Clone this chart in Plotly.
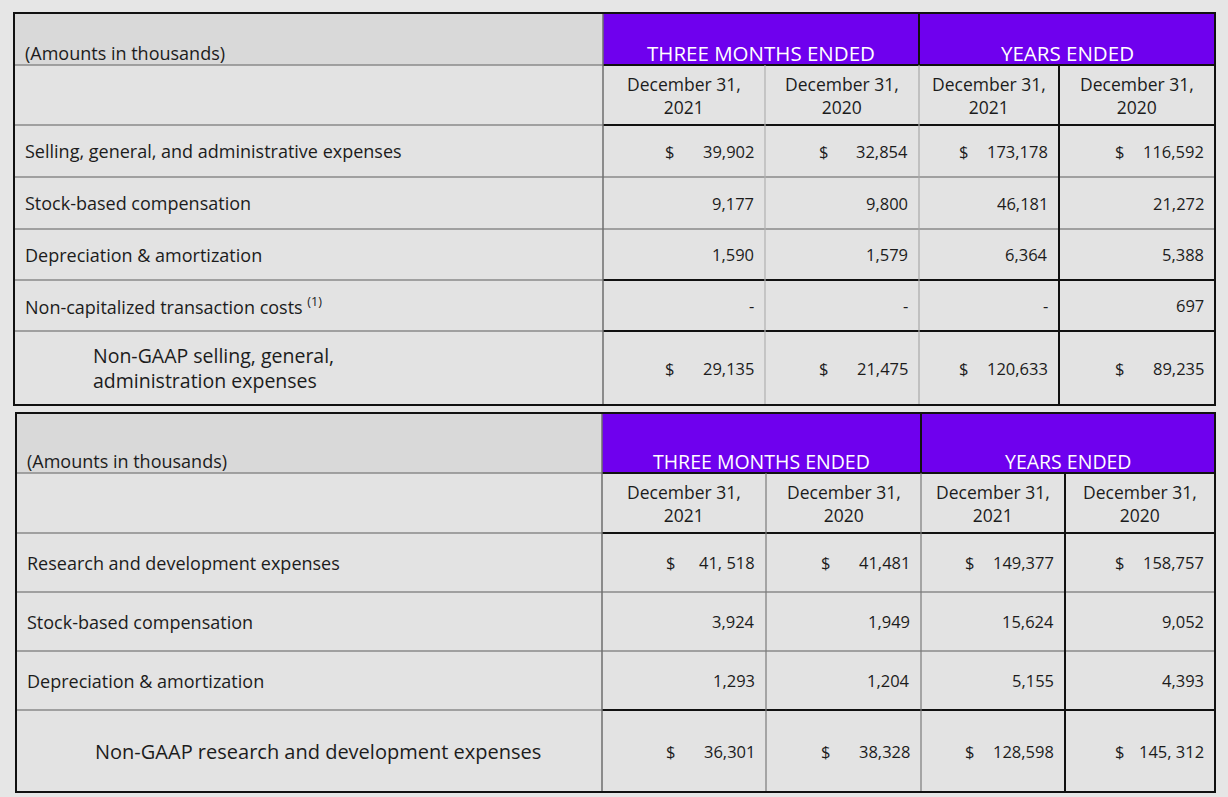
import plotly.graph_objects as go

# --- data ---------------------------------------------------------------
period_groups = ["THREE MONTHS ENDED", "YEARS ENDED"]
period_dates = ["December 31,<br>2021", "December 31,<br>2020",
                "December 31,<br>2021", "December 31,<br>2020"]
units_note = "(Amounts in thousands)"

sga_labels = ["Selling, general, and administrative expenses",
              "Stock-based compensation",
              "Depreciation & amortization",
              "Non-capitalized transaction costs <sup>(1)</sup>",
              "Non-GAAP selling, general,<br>administration expenses"]
sga_q4_2021 = ["39,902", "9,177", "1,590", "-", "29,135"]
sga_q4_2020 = ["32,854", "9,800", "1,579", "-", "21,475"]
sga_fy_2021 = ["173,178", "46,181", "6,364", "-", "120,633"]
sga_fy_2020 = ["116,592", "21,272", "5,388", "697", "89,235"]

rd_labels = ["Research and development expenses",
             "Stock-based compensation",
             "Depreciation & amortization",
             "Non-GAAP research and development expenses"]
rd_q4_2021 = ["41, 518", "3,924", "1,293", "36,301"]
rd_q4_2020 = ["41,481", "1,949", "1,204", "38,328"]
rd_fy_2021 = ["149,377", "15,624", "5,155", "128,598"]
rd_fy_2020 = ["158,757", "9,052", "4,393", "145, 312"]

# --- layout / styles ----------------------------------------------------
W, H = 1228, 797
PURPLE = "#6f00ee"
CELL = "#e3e3e3"
HEAD = "#d9d9d9"
TXT = "#1c1c1c"
BLACK = "#111111"
GRAY = "#8a8a8a"
FONT = "Open Sans"

fig = go.Figure()


def line(x0, y0, x1, y1, color, width):
    fig.add_shape(type="line", x0=x0, y0=y0, x1=x1, y1=y1, xref="x", yref="y",
                  line=dict(color=color, width=width), layer="above")


def rect(x0, y0, x1, y1, color):
    fig.add_shape(type="rect", x0=x0, y0=y0, x1=x1, y1=y1, xref="x", yref="y",
                  fillcolor=color, line=dict(width=0), layer="below")


def text(x, y, s, anchor="left", size=17.5, color=TXT):
    fig.add_annotation(x=x, y=y, text=s, xref="x", yref="y", showarrow=False,
                       xanchor=anchor, yanchor="middle", align=anchor,
                       font=dict(family=FONT, size=size, color=color))


def draw_panel(xs, ys, labels, columns, head_size, total_size, mid_gray, inner_gray, strong_rows):
    # cell fills
    rect(xs[0], ys[0], xs[1], ys[1], HEAD)
    rect(xs[1], ys[0], xs[5], ys[1], PURPLE)
    rect(xs[0], ys[1], xs[5], ys[-1], CELL)

    # group header row
    text(xs[0] + 9, ys[1] - 12, units_note, size=18)
    text((xs[1] + xs[3]) / 2, ys[1] - 12, period_groups[0], "center", head_size, "white")
    text((xs[3] + xs[5]) / 2, ys[1] - 12, period_groups[1], "center", head_size, "white")

    # date header row
    for i, d in enumerate(period_dates):
        text((xs[i + 1] + xs[i + 2]) / 2, (ys[1] + ys[2]) / 2, d, "center")

    # body rows
    n = len(labels)
    for r in range(n):
        yc = (ys[r + 2] + ys[r + 3]) / 2
        last = r == n - 1
        if last:
            text(xs[0] + 77, yc, labels[r], size=total_size)
        else:
            text(xs[0] + 9, yc, labels[r], size=18)
        for c, col in enumerate(columns):
            right = xs[c + 2] - 9
            text(right, yc, col[r], "right", 16.5)
            if r == 0 or last:
                text(right - 80, yc, "$", "right", 16.5)

    # horizontal rules
    for k in range(1, len(ys) - 1):
        line(xs[0], ys[k], xs[1], ys[k], GRAY, 1.5)
        strong = k in (1, 2) or (k - 2) in strong_rows
        line(xs[1], ys[k], xs[5], ys[k], BLACK if strong else GRAY, 2 if strong else 1.5)

    # vertical rules
    line(xs[1], ys[0], xs[1], ys[-1], "#6e6e6e", 1.5)
    line(xs[2], ys[1], xs[2], ys[-1], inner_gray, 1.2)
    line(xs[3], ys[0], xs[3], ys[1], BLACK, 2)
    line(xs[3], ys[1], xs[3], ys[-1], mid_gray, 1.2)
    line(xs[4], ys[1], xs[4], ys[-1], BLACK, 2)

    # outer frame
    fig.add_shape(type="rect", x0=xs[0], y0=ys[0], x1=xs[5], y1=ys[-1], xref="x", yref="y",
                  line=dict(color=BLACK, width=2), layer="above")


draw_panel([14, 603, 765, 919, 1059, 1215],
           [13, 65, 125, 177, 229, 280, 331, 405],
           sga_labels, [sga_q4_2021, sga_q4_2020, sga_fy_2021, sga_fy_2020],
           20.5, 19.5, "#a8a8a8", "#b0b0b0", strong_rows=(3, 4))

draw_panel([16, 602, 766, 921, 1065, 1215],
           [413, 473, 533, 592, 651, 710, 792],
           rd_labels, [rd_q4_2021, rd_q4_2020, rd_fy_2021, rd_fy_2020],
           19.5, 20, "#7a7a7a", "#7a7a7a", strong_rows=(3,))

fig.update_layout(
    width=W, height=H,
    margin=dict(l=0, r=0, t=0, b=0),
    paper_bgcolor="#e6e6e6", plot_bgcolor="#e6e6e6",
    xaxis=dict(range=[0, W], visible=False, fixedrange=True),
    yaxis=dict(range=[H, 0], visible=False, fixedrange=True),
    showlegend=False,
)

fig.write_html("out.html", config={"displayModeBar": False},
               post_script="document.body.style.margin='0';document.body.style.overflow='hidden';")
